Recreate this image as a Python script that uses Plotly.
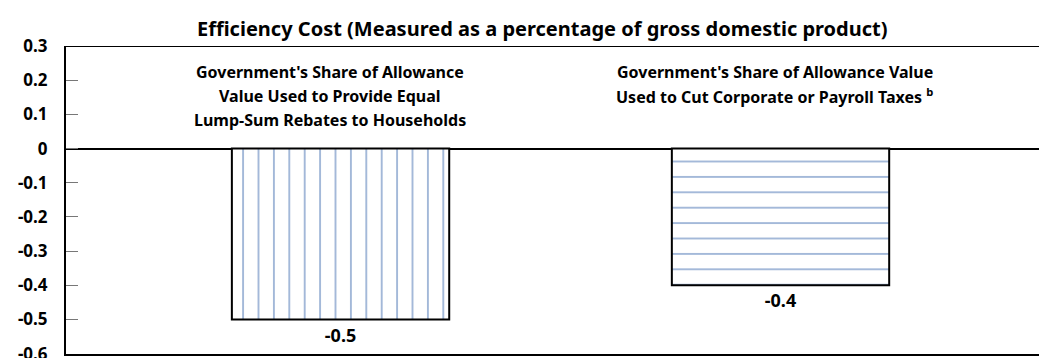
import plotly.graph_objects as go

categories = ["Lump-Sum Rebates", "Cut Corporate or Payroll Taxes"]
values = [-0.5, -0.4]
value_labels = ["-0.5", "-0.4"]
label_lines = [
    ["Government's Share of Allowance", "Value Used to Provide Equal", "Lump-Sum Rebates to Households"],
    ["Government's Share of Allowance Value", "Used to Cut Corporate or Payroll Taxes <sup>b</sup>"],
]
patterns = ["|", "-"]
tick_vals = [0.3, 0.2, 0.1, 0, -0.1, -0.2, -0.3, -0.4, -0.5, -0.6]
tick_text = ["0.3", "0.2", "0.1", "0", "-0.1", "-0.2", "-0.3", "-0.4", "-0.5", "-0.6"]
title = "Efficiency Cost (Measured as a percentage of gross domestic product)"

FONT = "Noto Sans"
BLUE = "#2f5ea8"

fig = go.Figure()
for i, (c, v) in enumerate(zip(categories, values)):
    fig.add_trace(go.Bar(
        x=[i], y=[v], width=0.494,
        marker=dict(
            color="white",
            line=dict(color="black", width=2),
            pattern=dict(shape=patterns[i], fgcolor=BLUE, bgcolor="white",
                         size=15.4, solidity=0.11, fillmode="overlay"),
        ),
        text=[value_labels[i]], textposition="outside", cliponaxis=False,
        textfont=dict(family=FONT, size=18, color="black", weight="bold"),
        showlegend=False, hoverinfo="skip",
    ))

annotations = []
xshifts = [-11, -6]
for i, lines in enumerate(label_lines):
    for j, line in enumerate(lines):
        annotations.append(dict(
            x=i, y=0.3, xref="x", yref="y", yanchor="middle", xanchor="center",
            text=line, showarrow=False, xshift=xshifts[i], yshift=-(72 - 46) - 24 * j,
            font=dict(family=FONT, size=16, color="black", weight="bold"),
        ))

annotations.append(dict(
    x=0.5, y=1, xref="paper", yref="paper", yanchor="bottom", yshift=2, xshift=-10,
    text=title, showarrow=False,
    font=dict(family=FONT, size=20, color="black", weight="bold"),
))

fig.update_layout(
    width=1039, height=358,
    margin=dict(l=66, r=0, t=46, b=4, autoexpand=False),
    plot_bgcolor="white", paper_bgcolor="white",
    annotations=annotations,
    shapes=[dict(type="line", xref="paper", yref="y", x0=0, x1=1, y0=0.3, y1=0.3,
                 line=dict(color="black", width=2))],
    xaxis=dict(range=[-0.624, 1.5875], showticklabels=False, showgrid=False,
               zeroline=False, showline=True, linecolor="black", linewidth=2,
               ticks="", automargin=False),
    yaxis=dict(range=[-0.6008, 0.3], tickvals=tick_vals, ticktext=tick_text,
               showgrid=False, zeroline=True, zerolinecolor="black", zerolinewidth=1.5,
               showline=True, linecolor="black", linewidth=2,
               ticks="inside", ticklen=12, tickcolor="#777777", tickwidth=1,
               tickfont=dict(family=FONT, size=17, color="black", weight="bold"),
               ticklabelstandoff=13, ticklabeloverflow="allow", automargin=False),
)

fig.write_html("out.html")
